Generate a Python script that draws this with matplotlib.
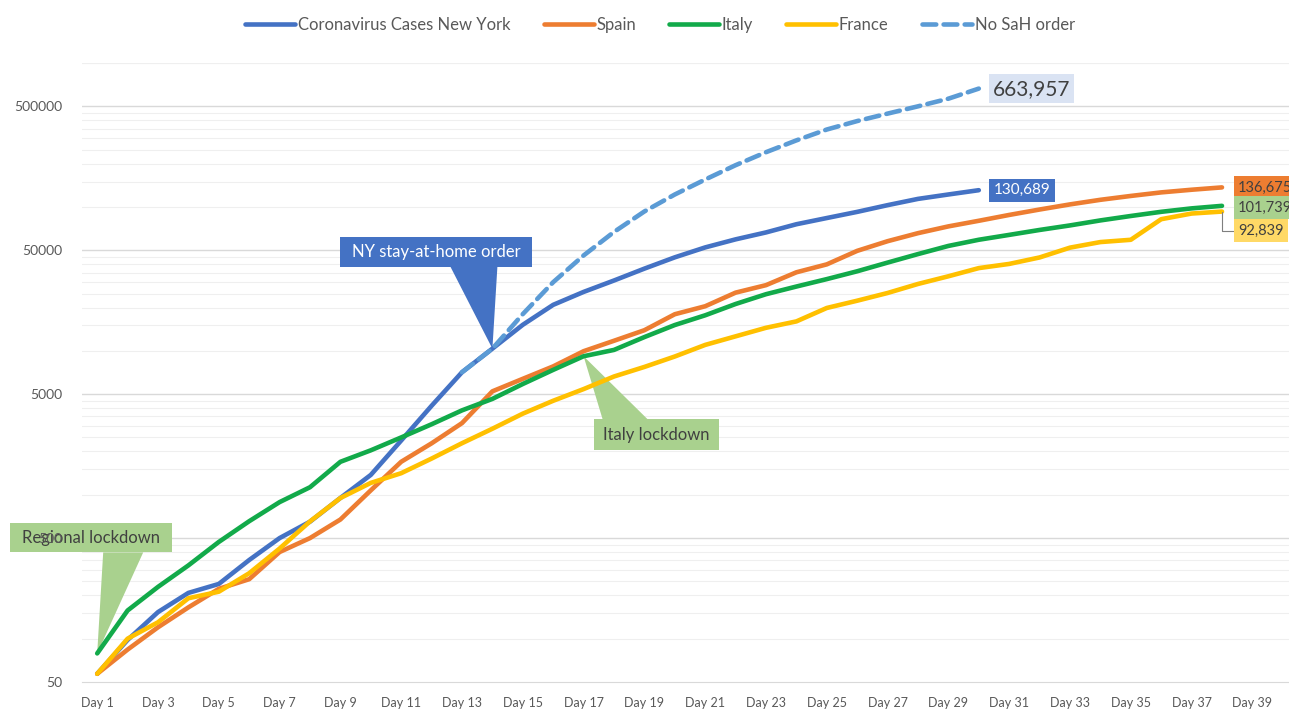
import matplotlib
matplotlib.use("Agg")
import matplotlib.pyplot as plt
from matplotlib.patches import Polygon, Rectangle
from matplotlib.ticker import FixedLocator, NullFormatter, FuncFormatter
from matplotlib.transforms import IdentityTransform

plt.rcParams['font.family'] = ['Lato', 'DejaVu Sans']

# cumulative cases, day 1 = first day in the series
ny = [57, 98, 153, 208, 240, 352, 500, 650, 950, 1374, 2382, 4152, 7102, 10356,
      15168, 20875, 25665, 30811, 37258, 44635, 52318, 59513, 66497, 75795,
      83712, 92381, 102863, 113704, 122031, 130689]
spain = [57, 84, 120, 165, 222, 259, 400, 500, 673, 1073, 1695, 2277, 3146, 5232,
         6391, 7798, 9942, 11748, 13910, 17963, 20410, 25374, 28603, 35136, 39885,
         49515, 57786, 65719, 73235, 80110, 87956, 95923, 104118, 112065, 119199,
         126168, 131646, 136675]
italy = [79, 157, 229, 323, 470, 655, 889, 1128, 1694, 2036, 2502, 3089, 3858, 4636,
         5883, 7375, 9172, 10149, 12462, 15113, 17660, 21157, 24747, 27980, 31506,
         35713, 41035, 47021, 53578, 59138, 63927, 69176, 74386, 80589, 86498,
         92472, 97689, 101739]
france = [57, 100, 130, 191, 212, 285, 423, 653, 949, 1209, 1412, 1784, 2281, 2876,
          3661, 4499, 5423, 6633, 7730, 9134, 10995, 12612, 14459, 16018, 19856,
          22304, 25233, 29155, 32964, 37575, 40174, 44550, 52128, 56989, 59105,
          82165, 89953, 92839]
# projection without stay-at-home order, starts on day 13
no_sah_start = 13
no_sah = [7102, 10356, 18000, 30000, 46000, 67000, 93000, 122000, 155000, 195000,
          240000, 290000, 345000, 395000, 445000, 500000, 565000, 663957]

day_labels = [f"Day {d}" for d in range(1, 40, 2)]
y_major = [50, 500, 5000, 50000, 500000]
y_minor = [50 * k * 10 ** n for n in range(5) for k in range(2, 10)] + [1e6]

W, H = 1289, 710
fig = plt.figure(figsize=(W / 100, H / 100), dpi=100)
ax = fig.add_axes([82 / W, 28 / H, (1298 - 82) / W, (682 - 63) / H])
ax.set_yscale('log')
ax.set_ylim(50, 1e6)
ax.set_xlim(0.5, 40.5)

lw = 3.3
kw = dict(lw=lw, solid_capstyle='round', solid_joinstyle='round')
ax.plot(range(1, len(ny) + 1), ny, color='#4472C4', label='Coronavirus Cases New York', **kw)
ax.plot(range(1, len(spain) + 1), spain, color='#ED7D31', label='Spain', **kw)
ax.plot(range(1, len(italy) + 1), italy, color='#12AA4A', label='Italy', **kw)
ax.plot(range(1, len(france) + 1), france, color='#FFC000', label='France', **kw)
ax.plot(range(no_sah_start, no_sah_start + len(no_sah)), no_sah, color='#5B9BD5',
        lw=lw, ls=(0, (3, 1.6)), dash_capstyle='round', label='No SaH order')

# gridlines drawn by hand so the callout boxes can sit above them but below tick labels
for v in y_minor:
    ax.axhline(v, color='#EFEFEF', lw=0.8, zorder=0.8)
for v in y_major[1:]:
    ax.axhline(v, color='#D9D9D9', lw=1, zorder=0.9)

ax.yaxis.set_major_locator(FixedLocator(y_major))
ax.yaxis.set_major_formatter(FuncFormatter(lambda v, p: f"{v:.0f}"))
ax.yaxis.set_minor_locator(FixedLocator(y_minor))
ax.yaxis.set_minor_formatter(NullFormatter())
ax.set_xticks(range(1, 40, 2))
ax.set_xticklabels(day_labels)
ax.tick_params(axis='y', which='both', length=0, pad=14, labelsize=10, labelcolor='#595959')
ax.tick_params(axis='x', length=0, pad=11, labelsize=9, labelcolor='#595959')
for s in ['top', 'left', 'right']:
    ax.spines[s].set_visible(False)
ax.spines['bottom'].set_color('#D9D9D9')

fig.legend(loc='center', bbox_to_anchor=(660 / W, 1 - 25 / H), ncol=5, frameon=False,
           fontsize=12, handlelength=3.0, handletextpad=0.15, columnspacing=2.0,
           labelcolor='#595959')


def callout(day, value, text, box, base, fc, tc):
    # box/base given as pixel offsets from the pointed-at data point (y down)
    tx, ty = ax.transData.transform((day, value))
    l, r, t, b = box
    tri = Polygon([(tx, ty), (tx + base[0], ty - base[2]), (tx + base[1], ty - base[2])],
                  closed=True, fc=fc, ec='none', transform=IdentityTransform(),
                  clip_on=False, zorder=1.2)
    rect = Rectangle((tx + l, ty - b), r - l, b - t, fc=fc, ec='none',
                     transform=IdentityTransform(), clip_on=False, zorder=1.2)
    ax.add_patch(tri)
    ax.add_patch(rect)
    ax.text(tx + (l + r) / 2, ty - (t + b) / 2, text, transform=IdentityTransform(),
            ha='center', va='center', color=tc, fontsize=12, zorder=1.3)


callout(14, ny[13], 'NY stay-at-home order', (-152, 40, -112, -82), (-42, 5, -82), '#4472C4', 'white')
callout(17, italy[16], 'Italy lockdown', (10, 135, 63, 94), (19, 64, 63), '#A9D18E', '#404040')
callout(1, italy[0], 'Regional lockdown', (-87, 75, -130, -101), (6, 46, -101), '#A9D18E', '#404040')


# end-of-line data labels
def end_label(day, value, text, dx, dy, fc, tc, size=10.5, pad=0.3, leader=False):
    arrow = None
    if leader:
        arrow = dict(arrowstyle='-', color='#7F7F7F', lw=0.8, shrinkA=0, shrinkB=0,
                     connectionstyle='angle,angleA=0,angleB=90')
    ax.annotate(text, xy=(day, value), xytext=(dx, dy), textcoords='offset pixels',
                ha='left', va='center', color=tc, fontsize=size, annotation_clip=False,
                bbox=dict(boxstyle=f'square,pad={pad}', fc=fc, ec='none'),
                arrowprops=arrow, zorder=6)


end_label(len(ny), ny[-1], f"{ny[-1]:,}", 15, 0, '#4472C4', 'white', size=11)
end_label(no_sah_start + len(no_sah) - 1, no_sah[-1], f"{no_sah[-1]:,}", 14, 0, '#DAE3F3', '#404040', size=15, pad=0.2)
end_label(len(spain), spain[-1], f"{spain[-1]:,}", 16, 0, '#ED7D31', '#404040')
end_label(len(italy), italy[-1], f"{italy[-1]:,}", 16, -2, '#A9D18E', '#404040')
end_label(len(france), france[-1], f"{france[-1]:,}", 16, -19, '#FFD966', '#404040', leader=True)

fig.savefig('out.png', dpi=100)
